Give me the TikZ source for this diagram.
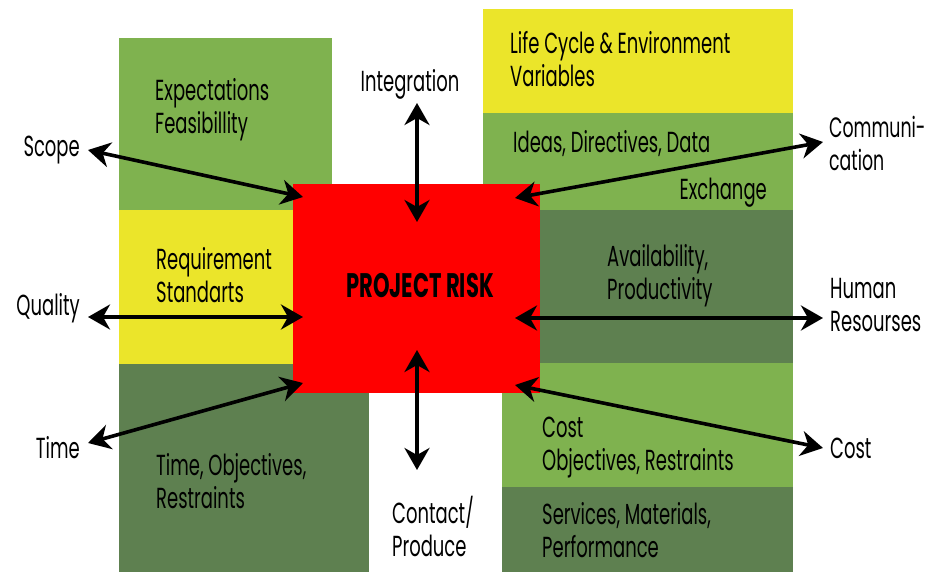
\documentclass[tikz,border=0pt]{standalone}
\usepackage{fontspec}
\setmainfont{Poppins}[FakeStretch=0.62]
\usetikzlibrary{arrows.meta}

\definecolor{leafgreen}{HTML}{7FB24F}
\definecolor{mossgreen}{HTML}{5E8050}
\definecolor{lemon}{HTML}{EBE52A}
\definecolor{riskred}{HTML}{FF0000}

\begin{document}
\begin{tikzpicture}[x=1pt, y=-1pt,
	every node/.style={font=\fontsize{29}{33}\selectfont, align=left, inner sep=0pt, anchor=base west},
	riskarrow/.style={{Stealth[length=22pt,width=25pt,inset=7pt]}-{Stealth[length=22pt,width=25pt,inset=7pt]}, line width=3.6pt}]
		\useasboundingbox (0,0) rectangle (927,572);
		
		% Left column of boxes
		\fill[leafgreen] (119,38) rectangle (332,210);
		\fill[lemon] (119,210) rectangle (293,364);
		\fill[mossgreen] (119,364) rectangle (369,572);
		
		% Right column of boxes
		\fill[lemon] (483,9) rectangle (793,113);
		\fill[leafgreen] (483,113) rectangle (793,210);
		\fill[mossgreen] (540,210) rectangle (793,363);
		\fill[leafgreen] (502,363) rectangle (793,487);
		\fill[mossgreen] (502,487) rectangle (793,572);
		
		% Centre box
		\fill[riskred] (293,184) rectangle (540,393);
		\node[anchor=base, font=\fontsize{34}{33}\bfseries] (risk) at (420,298) {PROJECT RISK};
		
		% Texts in the boxes (anchored at the last line)
		\node (expect) at (155,134) {Expectations\\Feasibillity};
		\node (require) at (156,303) {Requirement\\Standarts};
		\node (timeobj) at (156,508) {Time, Objectives,\\Restraints};
		\node (lifecycle) at (510,87) {Life Cycle \& Environment\\Variables};
		\node (ideas) at (513,153) {Ideas, Directives, Data};
		\node[anchor=base east] (exchange) at (767,200) {Exchange};
		\node (avail) at (607,300) {Availability,\\Productivity};
		\node (costobj) at (542,470) {Cost\\Objectives, Restraints};
		\node (services) at (542,557) {Services, Materials,\\Performance};
		
		% Outer labels
		\node[anchor=base east] (scope) at (80,157) {Scope};
		\node[anchor=base east] (quality) at (80,316) {Quality};
		\node[anchor=base east] (time) at (80,458) {Time};
		\node[anchor=base] (integration) at (410,92) {Integration};
		\node (contact) at (392,556) {Contact/\\Produce};
		\node[font=\fontsize{28}{33}\selectfont] (comm) at (829,171) {Communi-\\cation};
		\node (human) at (830,331) {Human\\Resourses};
		\node (cost) at (830,458) {Cost};
		
		% Arrow end points
		\coordinate (scopeA) at (88,150);
		\coordinate (scopeB) at (303,197);
		\coordinate (qualityA) at (88,317);
		\coordinate (qualityB) at (303,317);
		\coordinate (timeA) at (88,443);
		\coordinate (timeB) at (303,383);
		\coordinate (integrationA) at (417,103);
		\coordinate (integrationB) at (417,222);
		\coordinate (contactA) at (417,350);
		\coordinate (contactB) at (417,470);
		\coordinate (commA) at (515,198);
		\coordinate (commB) at (823,142);
		\coordinate (humanA) at (515,318);
		\coordinate (humanB) at (823,318);
		\coordinate (costA) at (515,385);
		\coordinate (costB) at (823,448);
		
		% Draw the arrows
		\foreach \a/\b in {scopeA/scopeB, qualityA/qualityB, timeA/timeB, integrationA/integrationB,
			contactA/contactB, commA/commB, humanA/humanB, costA/costB} {
				\draw[riskarrow] (\a) -- (\b);
			}
		
	\end{tikzpicture}
\end{document}
